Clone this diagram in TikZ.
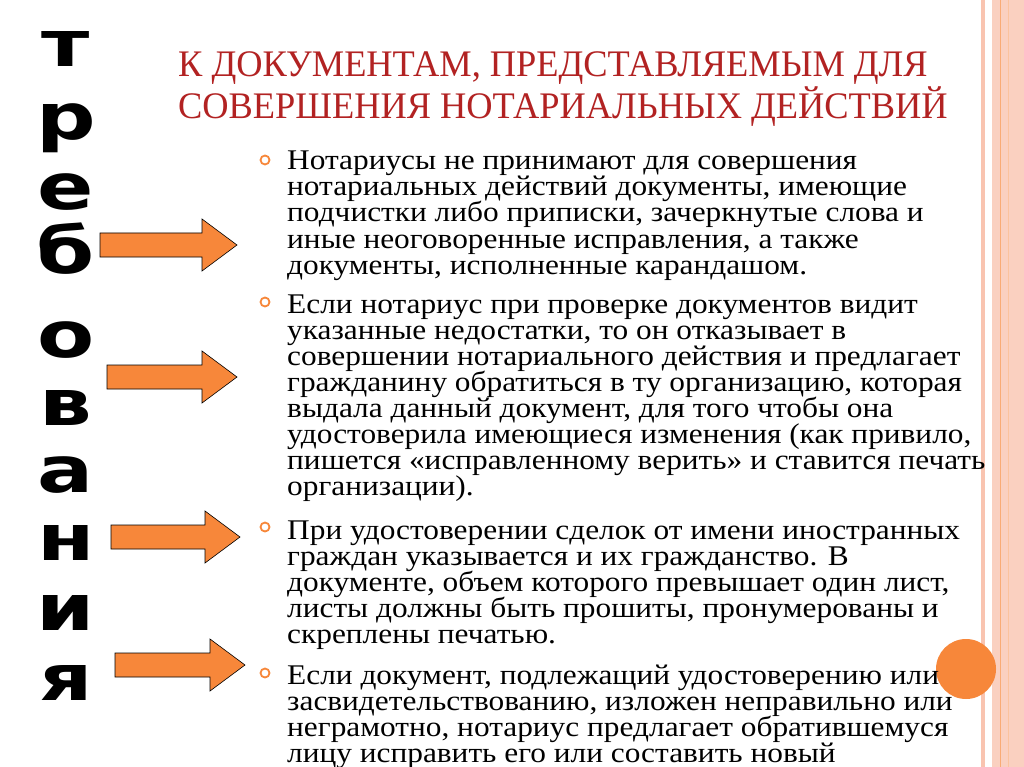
\documentclass[tikz,border=0pt]{standalone}
\usepackage{fontspec}
\setmainfont{Liberation Serif}
\newfontfamily\bigsans{DejaVu Sans}
\newfontfamily\bodyf[FakeStretch=1.1]{Liberation Serif}
\newfontfamily\ttlf[FakeStretch=0.97]{Liberation Serif}
\definecolor{org}{HTML}{F7873A}
\definecolor{ttl}{HTML}{B22222}
\definecolor{strp}{HTML}{F9C4B0}
\begin{document}
\begin{tikzpicture}[x=1pt,y=-1pt,
  tl/.style={anchor=base west,inner sep=0,font=\bodyf\fontsize{28.5}{30}\selectfont},
  ht/.style={anchor=base west,inner sep=0,text=ttl,font=\ttlf\fontsize{37.5}{38}\selectfont},
  vl/.style={anchor=base,inner sep=0,xscale=1.3,font=\bigsans\bfseries\fontsize{64}{64}\selectfont},
  bul/.style={circle,draw=org,line width=1.8pt,minimum size=9pt,inner sep=0},
  arr/.style={fill=org,draw=black,line width=0.6pt}]
\useasboundingbox (0,0) rectangle (1024,767);
\clip (0,0) rectangle (1024,767);
\fill[white] (0,0) rectangle (1024,767);
% stripes
\fill[strp] (981,0) rectangle (985,767);
\fill[strp!80] (992,0) rectangle (1024,767);
\draw[org!70,line width=0.8pt] (1000,0) -- (1000,767);
\draw[org!50,line width=0.8pt] (1008,0) -- (1008,767);
% vertical word
\node[vl] (v1) at (66,67) {т};
\node[vl] (v2) at (66,140) {р};
\node[vl] (v3) at (66,210) {е};
\node[vl] (v4) at (66,273) {б};
\node[vl] (v5) at (66,357) {о};
\node[vl] (v6) at (66,425) {в};
\node[vl] (v7) at (66,492) {а};
\node[vl] (v8) at (66,560) {н};
\node[vl] (v9) at (66,630) {и};
\node[vl] (v10) at (66,700) {я};
% title
\node[ht] (t1) at (178,77) {К ДОКУМЕНТАМ, ПРЕДСТАВЛЯЕМЫМ ДЛЯ};
\node[ht] (t2) at (178,119) {СОВЕРШЕНИЯ НОТАРИАЛЬНЫХ ДЕЙСТВИЙ};
% arrows
\foreach \n/\x/\y/\xe in {a1/100/245/237, a2/107/377/237, a3/111/537/240, a4/115/665/245}{
  \draw[arr] (\x,\y-12) -- (\xe-35,\y-12) -- (\xe-35,\y-26) -- (\xe,\y) -- (\xe-35,\y+26) -- (\xe-35,\y+12) -- (\x,\y+12) -- cycle;
}
% bullets
\node[bul] (b1) at (265,160) {};
\node[bul] (b2) at (265,302) {};
\node[bul] (b3) at (265,527) {};
\node[bul] (b4) at (265,673) {};
% paragraph 1
\node[tl] (p1) at (287,170) {Нотариусы не принимают для совершения};
\node[tl] (p2) at (287,196) {нотариальных действий документы, имеющие};
\node[tl] (p3) at (287,222) {подчистки либо приписки, зачеркнутые слова и};
\node[tl] (p4) at (287,248) {иные неоговоренные исправления, а также};
\node[tl] (p5) at (287,274) {документы, исполненные карандашом.};
% paragraph 2
\node[tl] (q1) at (287,313) {Если нотариус при проверке документов видит};
\node[tl] (q2) at (287,339) {указанные недостатки, то он отказывает в};
\node[tl] (q3) at (287,365) {совершении нотариального действия и предлагает};
\node[tl] (q4) at (287,391) {гражданину обратиться в ту организацию, которая};
\node[tl] (q5) at (287,417) {выдала данный документ, для того чтобы она};
\node[tl] (q6) at (287,443) {удостоверила имеющиеся изменения (как привило,};
\node[tl] (q7) at (287,469) {пишется «исправленному верить» и ставится печать};
\node[tl] (q8) at (287,495) {организации).};
% paragraph 3
\node[tl] (r1) at (287,539) {При удостоверении сделок от имени иностранных};
\node[tl] (r2) at (287,565) {граждан указывается и их гражданство. В};
\node[tl] (r3) at (287,591) {документе, объем которого превышает один лист,};
\node[tl] (r4) at (287,617) {листы должны быть прошиты, пронумерованы и};
\node[tl] (r5) at (287,643) {скреплены печатью.};
% circle
\fill[org] (966,669) circle (30);
% paragraph 4
\node[tl] (s1) at (287,684) {Если документ, подлежащий удостоверению или};
\node[tl] (s2) at (287,710) {засвидетельствованию, изложен неправильно или};
\node[tl] (s3) at (287,736) {неграмотно, нотариус предлагает обратившемуся};
\node[tl] (s4) at (287,762) {лицу исправить его или составить новый};
\end{tikzpicture}
\end{document}
